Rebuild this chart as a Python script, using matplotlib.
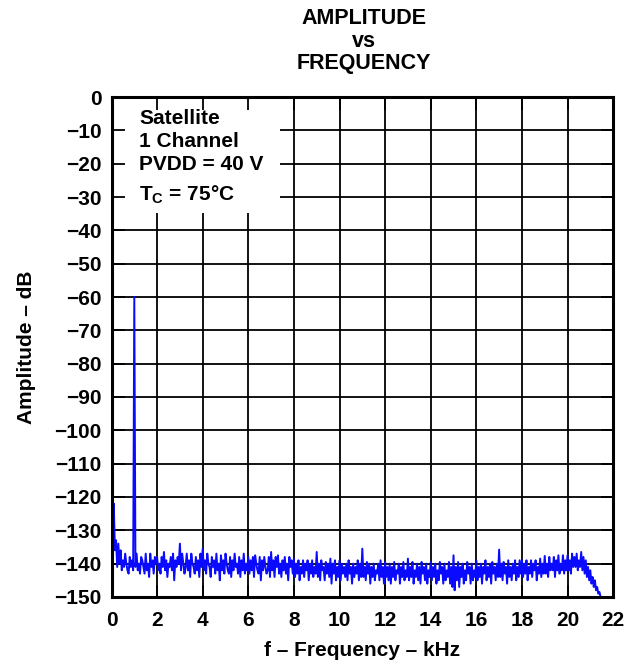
import numpy as np
import matplotlib
matplotlib.use("Agg")
import matplotlib.pyplot as plt
from matplotlib.patches import Rectangle

# spectrum, one row per kHz, 0.05 kHz step
level_rows = [
    [-150, -128, -122, -136, -133, -141, -134, -140, -136, -142, -139, -141, -137, -140, -142, -143, -138, -141, -139, -142],
    [-60, -141, -137, -142, -140, -143, -138, -139, -141, -143, -137, -142, -140, -144, -137, -141, -139, -143, -138, -140],
    [-138, -142, -140, -143, -138, -141, -136.5, -142, -139, -144, -140, -141, -138, -142, -137, -145, -139, -141, -138, -140],
    [-134, -142, -137, -140, -143, -141, -137, -142, -139, -144, -137, -140, -141, -143, -138, -142, -139, -144, -137, -141],
    [-135.5, -142, -139, -143, -137, -140, -141, -144, -138, -141, -139, -143, -137, -142, -140, -145, -137.5, -142, -139, -143],
    [-137, -140, -142, -143, -138, -144, -139, -142, -137, -141, -140, -143, -138, -144, -139, -142, -137, -143, -140, -142],
    [-138, -143, -139, -142, -138, -144, -137.5, -140, -142, -143, -138, -145, -139, -142, -138, -141, -143, -142, -138, -144],
    [-136.5, -142, -139, -144, -138, -141, -137.5, -143, -140, -144, -139, -142, -138, -143, -140, -145, -138, -141, -139, -143],
    [-138.5, -144, -140, -143, -139, -145, -141, -143, -139, -144, -140, -142, -139, -145, -140, -143, -139, -144, -141, -143],
    [-136.5, -144, -140, -145, -139, -142, -141, -145, -139.5, -143, -140, -144, -138.5, -146, -140, -143, -139, -145, -141, -144],
    [-139, -145, -140, -143, -141, -144, -140, -145, -139, -143, -141, -146, -140, -144, -141, -143, -139, -145, -140, -144],
    [-135.5, -144, -141, -145, -139.5, -143, -140, -146, -141, -144, -140, -145, -142, -143, -140, -145, -139, -144, -141, -146],
    [-139.5, -144, -141, -145, -140, -146, -141, -144, -139.5, -145, -142, -143, -140, -146, -141, -144, -139.5, -145, -142, -144],
    [-138.5, -145, -141, -144, -139.5, -146, -142, -144, -140, -145, -141, -146, -139.5, -143, -141, -145, -140, -146, -142, -144],
    [-139.5, -145, -141, -144, -140, -146, -142, -145, -139.5, -143, -141, -146, -140, -145, -142, -144, -139.5, -146, -141, -147],
    [-137.5, -148, -141, -145, -139.5, -147, -141, -144, -140, -146, -142, -145, -139.5, -143, -141, -146, -140, -145, -142, -144],
    [-139, -145, -141, -144, -140, -146, -141, -143, -139, -145, -141, -144, -140, -146, -139.5, -143, -141, -145, -140, -144],
    [-135.8, -144, -140, -145, -139.5, -143, -141, -146, -139, -144, -141, -145, -140, -143, -139, -145, -141, -144, -139, -143],
    [-139, -144, -140, -143, -139, -145, -141, -143, -139, -144, -140, -142, -139, -145, -141, -143, -138.5, -144, -140, -143],
    [-137.7, -143, -140, -144, -138, -142, -140, -142, -138, -144, -139, -142, -137.5, -143, -140, -142, -137.5, -143, -139, -142],
    [-137.5, -142, -139, -143, -137, -141, -138, -141, -137, -142, -139, -141, -136.5, -142, -138, -143, -139, -144, -141, -145],
    [-142, -146, -144, -147, -145, -148, -147, -149, -148.5, -150],
]
level = np.concatenate([np.array(r, dtype=float) for r in level_rows])
freq = np.arange(len(level)) * 0.05

xticks = list(range(0, 23, 2))
yticks = list(range(0, -151, -10))
ytick_labels = ['0'] + ['\u2212%d' % (-v) for v in yticks[1:]]
info_lines = ['Satellite', '1 Channel', 'PVDD = 40 V', r'$\mathbf{T_C}$ = 75°C']

plt.rcParams['font.family'] = 'Liberation Sans'
plt.rcParams['font.weight'] = 'bold'
plt.rcParams['mathtext.fontset'] = 'custom'
plt.rcParams['mathtext.rm'] = 'Liberation Sans:bold'
plt.rcParams['mathtext.bf'] = 'Liberation Sans:bold'
plt.rcParams['mathtext.it'] = 'Liberation Sans:bold'

fig = plt.figure(figsize=(6.25, 6.65), dpi=100)
ax = fig.add_axes([0.1784, 0.1023, 0.8026, 0.7518])

for x in xticks:
    ax.axvline(x, color='black', lw=1.3, zorder=0.5)
for y in yticks:
    ax.axhline(y, color='black', lw=1.3, zorder=0.5)

# white label area hides the grid
ax.add_patch(Rectangle((0, 1), 0.336, -0.232, transform=ax.transAxes,
                       facecolor='white', edgecolor='none', zorder=1))

ax.plot(freq, level, color='#0a0aff', lw=1.4, zorder=2)

ax.set_xlim(0, 22)
ax.set_ylim(-150, 0)
ax.set_xticks(xticks)
ax.set_yticks(yticks)
ax.set_yticklabels(ytick_labels)
ax.tick_params(direction='in', length=9, width=1.3, top=True, right=True,
               labelsize=15, pad=7)
ax.tick_params(axis='x', pad=10)
for lab in ax.get_xticklabels() + ax.get_yticklabels():
    lab.set_fontweight('bold')
for s in ax.spines.values():
    s.set_linewidth(2.2)

ax.set_xlabel('f \u2013 Frequency \u2013 kHz', fontsize=15, fontweight='bold', labelpad=8)
ax.set_ylabel('Amplitude \u2013 dB', fontsize=15, fontweight='bold', labelpad=13)

for i, line in enumerate(info_lines):
    ax.text(0.055, 0.977 - i * 0.046 - (0.012 if i == 3 else 0), line,
            transform=ax.transAxes, fontsize=15, fontweight='bold',
            va='top', ha='left', zorder=3)

fig.text(0.582, 0.988, 'AMPLITUDE\nvs\nFREQUENCY', ha='center', va='top',
         fontsize=15.5, fontweight='bold', linespacing=1.1)

fig.savefig('out.png', dpi=100)
